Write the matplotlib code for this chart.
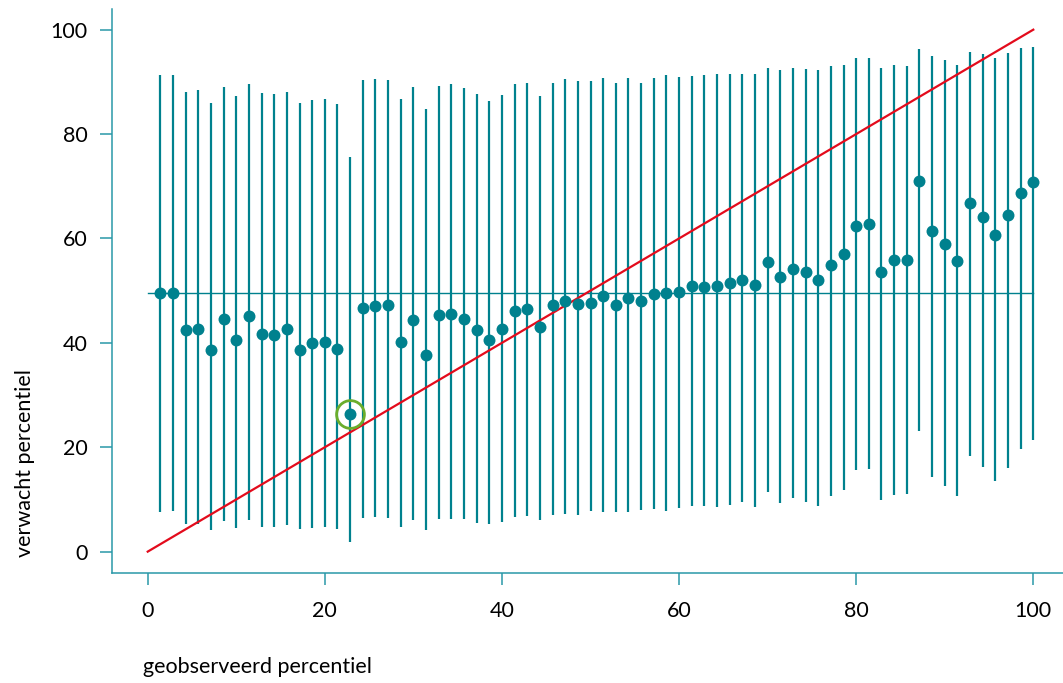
import matplotlib
matplotlib.use("Agg")
import matplotlib.pyplot as plt

plt.rcParams['font.family'] = ['Lato', 'DejaVu Sans']

# observed percentile of each group
observed = [1.43, 2.86, 4.29, 5.71, 7.14, 8.57, 10.00, 11.43, 12.86, 14.29,
            15.71, 17.14, 18.57, 20.00, 21.43, 22.86, 24.29, 25.71, 27.14, 28.57,
            30.00, 31.43, 32.86, 34.29, 35.71, 37.14, 38.57, 40.00, 41.43, 42.86,
            44.29, 45.71, 47.14, 48.57, 50.00, 51.43, 52.86, 54.29, 55.71, 57.14,
            58.57, 60.00, 61.43, 62.86, 64.29, 65.71, 67.14, 68.57, 70.00, 71.43,
            72.86, 74.29, 75.71, 77.14, 78.57, 80.00, 81.43, 82.86, 84.29, 85.71,
            87.14, 88.57, 90.00, 91.43, 92.86, 94.29, 95.71, 97.14, 98.57, 100.00]

# expected percentile (point estimate)
expected = [49.5, 49.5, 42.4, 42.7, 38.6, 44.5, 40.5, 45.2, 41.7, 41.5,
            42.7, 38.7, 39.9, 40.2, 38.8, 26.4, 46.6, 47.1, 47.2, 40.2,
            44.3, 37.6, 45.3, 45.6, 44.5, 42.4, 40.6, 42.7, 46.1, 46.5,
            43.0, 47.3, 48.1, 47.5, 47.6, 49.0, 47.3, 48.5, 48.1, 49.3,
            49.5, 49.7, 50.8, 50.7, 50.8, 51.5, 52.1, 51.1, 55.4, 52.7,
            54.2, 53.6, 52.1, 55.0, 57.0, 62.4, 62.7, 53.6, 55.8, 55.9,
            71.1, 61.5, 59.0, 55.7, 66.7, 64.1, 60.6, 64.5, 68.8, 70.9]

# interval bounds of the expected percentile
upper = [91.4, 91.4, 88.1, 88.4, 86.0, 89.0, 87.2, 89.5, 87.8, 87.6,
         88.1, 86.0, 86.5, 86.8, 85.8, 75.7, 90.3, 90.5, 90.4, 86.8,
         89.0, 84.8, 89.3, 89.6, 88.8, 87.6, 86.4, 87.5, 89.6, 89.8,
         87.3, 89.8, 90.5, 90.1, 90.1, 90.8, 89.8, 90.7, 89.8, 90.8,
         91.3, 91.0, 91.1, 91.3, 91.5, 91.5, 91.6, 91.6, 92.6, 92.3,
         92.6, 92.4, 92.3, 93.1, 93.3, 94.6, 94.6, 92.7, 93.2, 93.1,
         96.3, 94.9, 94.2, 93.3, 95.8, 95.3, 94.6, 95.6, 96.5, 96.7]

lower = [7.6, 7.8, 5.2, 5.2, 4.1, 5.9, 4.6, 6.1, 4.8, 4.8,
         5.1, 4.3, 4.5, 4.7, 4.3, 1.8, 6.4, 6.6, 6.4, 4.8,
         6.1, 4.1, 6.2, 6.3, 6.2, 5.5, 5.2, 5.7, 6.6, 6.9,
         6.1, 7.1, 7.3, 7.1, 7.7, 7.5, 7.5, 7.6, 7.9, 8.2,
         7.7, 8.3, 8.7, 8.7, 8.5, 8.9, 9.5, 8.6, 11.4, 9.3,
         10.2, 9.6, 8.8, 10.6, 11.8, 15.7, 15.9, 9.8, 10.8, 11.0,
         23.1, 14.3, 12.6, 10.6, 18.4, 16.2, 13.5, 16.0, 19.6, 21.4]

mean_expected = 49.6
highlight_index = 15

x_ticks = [0, 20, 40, 60, 80, 100]
y_ticks = [0, 20, 40, 60, 80, 100]

teal = '#00818e'
axis_teal = '#2a98a8'
red = '#e30b1c'
green = '#6aad2c'

W, H = 1063, 683
fig = plt.figure(figsize=(W / 100, H / 100), dpi=100)
ax = fig.add_axes([112.3 / W, (H - 572.5) / H, (1068.7 - 112.3) / W, (572.5 - 8.8) / H])
ax.set_xlim(-4, 104)
ax.set_ylim(-4, 104)

# intervals
ax.vlines(observed, lower, upper, color=teal, linewidth=1.6, zorder=2)
# mean expected percentile
ax.plot([0, 100], [mean_expected, mean_expected], color=teal, linewidth=1.0, zorder=2)
# identity line
ax.plot([0, 100], [0, 100], color=red, linewidth=1.6, zorder=3)
# point estimates
ax.plot(observed, expected, 'o', color=teal, markersize=8.6, markeredgewidth=0, zorder=4)
# highlighted group
ax.plot([observed[highlight_index]], [expected[highlight_index]], 'o', markersize=20,
        markerfacecolor='none', markeredgecolor=green, markeredgewidth=2.0, zorder=5)

for side in ('top', 'right'):
    ax.spines[side].set_visible(False)
for side in ('left', 'bottom'):
    ax.spines[side].set_color(axis_teal)
    ax.spines[side].set_linewidth(1.1)

ax.set_xticks(x_ticks)
ax.set_yticks(y_ticks)
ax.tick_params(axis='both', direction='out', length=8.6, width=1.1, color=axis_teal,
               labelsize=15.5, labelcolor='black')
ax.tick_params(axis='x', pad=12)
ax.tick_params(axis='y', pad=9)

fig.text(143 / W, (H - 673) / H, 'geobserveerd percentiel', fontsize=15.5,
         ha='left', va='baseline', color='black')
fig.text(15 / W, (H - 557) / H, 'verwacht percentiel', fontsize=15.5, rotation=90,
         ha='left', va='bottom', color='black')

fig.savefig('out.png', dpi=100)
